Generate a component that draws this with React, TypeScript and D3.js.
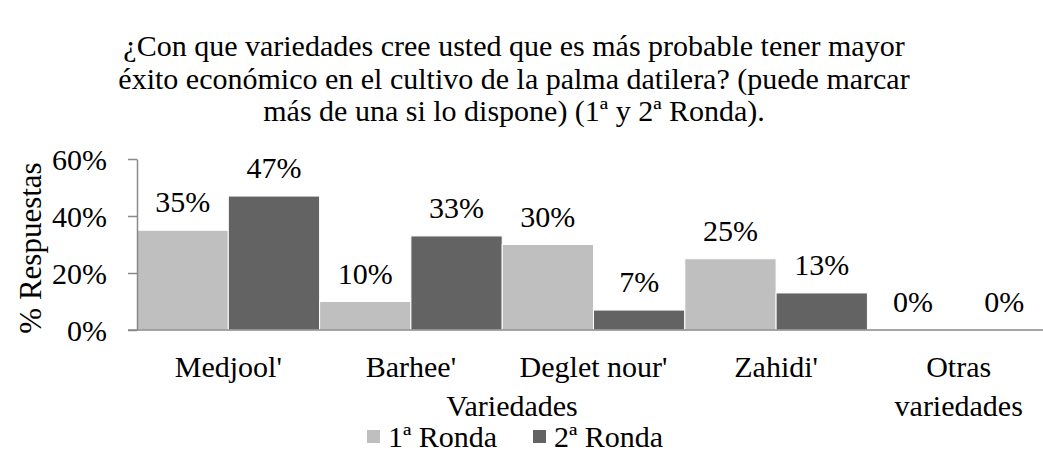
import React, { useEffect, useRef } from 'react';
import * as d3 from 'd3';

const categories = ["Medjool'", "Barhee'", "Deglet nour'", "Zahidi'", "Otras variedades"];
const series = ["1ª Ronda", "2ª Ronda"];
const ronda1 = [0.35, 0.10, 0.30, 0.25, 0.0];
const ronda2 = [0.47, 0.33, 0.07, 0.13, 0.0];
const yTicks = [0, 0.2, 0.4, 0.6];
const titleLines = [
    "¿Con que variedades cree usted que es más probable tener mayor",
    "éxito económico en el cultivo de la palma datilera? (puede marcar",
    "más de una si lo dispone) (1ª y 2ª Ronda).",
];

const colors = ["#bfbfbf", "#636363"];
const font = "Liberation Serif, DejaVu Serif, serif";

export default function App() {
    const ref = useRef(null);

    useEffect(() => {
        const svg = d3.select(ref.current);
        svg.selectAll("*").remove();

        const width = 1043;
        const height = 452;
        const left = 137, right = 1050, top = 159, bottom = 330;

        const x = d3.scaleBand().domain(categories).range([left, right]).padding(0);
        const xs = d3.scaleBand().domain(series).range([0, x.bandwidth()]).padding(0);
        const y = d3.scaleLinear().domain([0, 0.6]).range([bottom, top]);

        // title
        svg.append("g")
            .selectAll("text")
            .data(titleLines)
            .join("text")
            .attr("x", 514)
            .attr("y", (d, i) => 56 + i * 32.5)
            .attr("text-anchor", "middle")
            .style("font-family", font)
            .attr("font-size", 30)
            .text(d => d);

        // bars
        const data = categories.map((c, i) => ({ c, v: [ronda1[i], ronda2[i]] }));
        const groups = svg.append("g")
            .selectAll("g")
            .data(data)
            .join("g")
            .attr("transform", d => `translate(${x(d.c)},0)`);

        groups.selectAll("rect")
            .data(d => d.v.map((v, j) => ({ s: series[j], v, j })))
            .join("rect")
            .attr("x", d => xs(d.s))
            .attr("y", d => y(d.v))
            .attr("width", xs.bandwidth())
            .attr("height", d => bottom - y(d.v))
            .attr("fill", d => colors[d.j])
            .attr("stroke", "#fff")
            .attr("stroke-width", 1);

        groups.selectAll("text")
            .data(d => d.v.map((v, j) => ({ s: series[j], v, j })))
            .join("text")
            .attr("x", d => xs(d.s) + xs.bandwidth() / 2)
            .attr("y", d => y(d.v) - 18)
            .attr("text-anchor", "middle")
            .style("font-family", font)
            .attr("font-size", 30)
            .text(d => d3.format(".0%")(d.v));

        // y axis
        const yAxis = svg.append("g")
            .attr("transform", `translate(${left},0)`)
            .call(d3.axisLeft(y).tickValues(yTicks).tickFormat(d3.format(".0%")).tickSizeInner(9).tickSizeOuter(0).tickPadding(21));
        yAxis.select(".domain").attr("stroke", "#898989").attr("stroke-width", 1.5);
        yAxis.selectAll(".tick line").attr("stroke", "#898989").attr("stroke-width", 1.5);
        yAxis.selectAll(".tick text")
            .attr("fill", "#000")
            .attr("dy", "0.36em")
            .style("font-family", font)
            .attr("font-size", 30);

        // x baseline
        svg.append("line")
            .attr("x1", left - 9)
            .attr("x2", right)
            .attr("y1", bottom)
            .attr("y2", bottom)
            .attr("stroke", "#898989")
            .attr("stroke-width", 1.5);

        // category labels
        const catLabels = svg.append("g")
            .selectAll("text")
            .data(categories)
            .join("text")
            .attr("x", d => x(d) + x.bandwidth() / 2)
            .attr("y", 377)
            .attr("text-anchor", "middle")
            .style("font-family", font)
            .attr("font-size", 30);
        catLabels.each(function (d) {
            const words = d === "Otras variedades" ? ["Otras", "variedades"] : [d];
            d3.select(this).selectAll("tspan")
                .data(words)
                .join("tspan")
                .attr("x", x(d) + x.bandwidth() / 2)
                .attr("dy", (w, i) => (i === 0 ? 0 : 39))
                .text(w => w);
        });

        // axis titles
        svg.append("text")
            .attr("x", 512)
            .attr("y", 416)
            .attr("text-anchor", "middle")
            .style("font-family", font)
            .attr("font-size", 30)
            .text("Variedades");

        svg.append("text")
            .attr("transform", "translate(41,248) rotate(-90)")
            .attr("text-anchor", "middle")
            .style("font-family", font)
            .attr("font-size", 31)
            .text("% Respuestas");

        // legend
        const legendX = [367, 533];
        const legend = svg.append("g")
            .selectAll("g")
            .data(series)
            .join("g")
            .attr("transform", (d, i) => `translate(${legendX[i]},0)`);
        legend.append("rect")
            .attr("x", 0)
            .attr("y", 430)
            .attr("width", 13)
            .attr("height", 13)
            .attr("fill", (d, i) => colors[i]);
        legend.append("text")
            .attr("x", 21)
            .attr("y", 447)
            .style("font-family", font)
            .attr("font-size", 30)
            .text(d => d);

        svg.attr("width", width).attr("height", height);
    }, []);

    return (
        <svg
            ref={ref}
            width={1043}
            height={452}
            style={{ position: "absolute", left: 0, top: 0, background: "#fff" }}
        />
    );
}
